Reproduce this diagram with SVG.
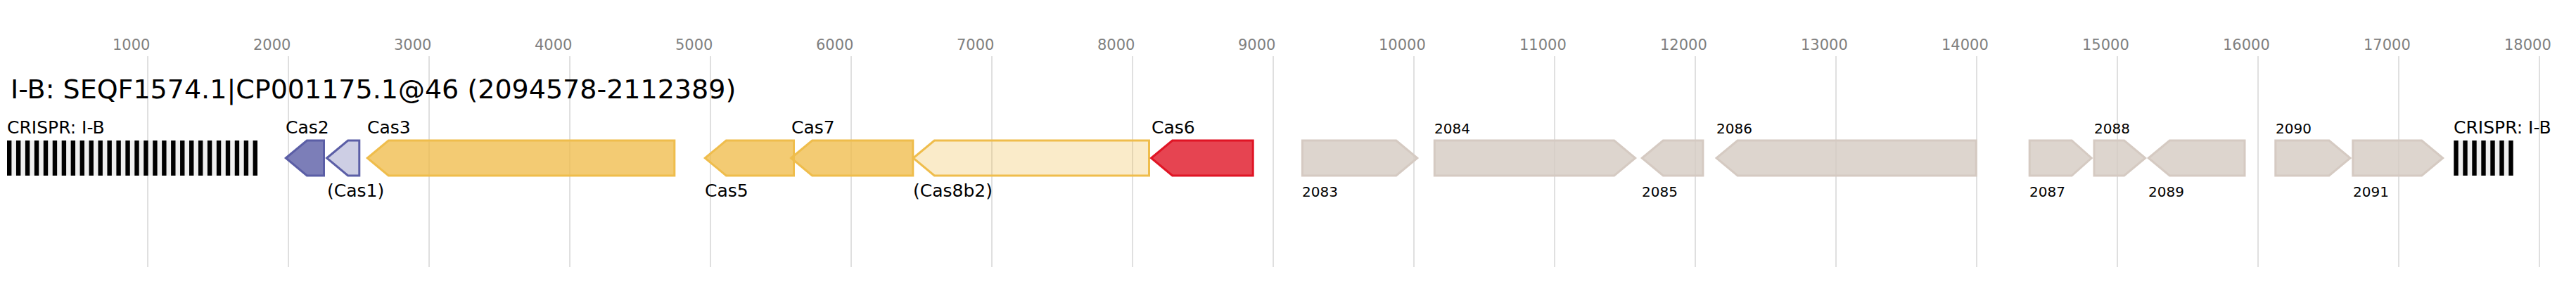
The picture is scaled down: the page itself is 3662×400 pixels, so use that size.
<svg xmlns="http://www.w3.org/2000/svg" width="3662" height="400" viewBox="0 0 3662 400">
<style>
text{font-family:"DejaVu Sans","Liberation Sans",sans-serif;fill:#000}
.tick{font-size:21px;fill:#808080}
.title{font-size:38px}
.lbl{font-size:25px}
.num{font-size:20px}
.grid line{stroke:#c0c0c0;stroke-width:1}
.gene{stroke-width:3}
.c2{fill:#5b5ea6;fill-opacity:.8;stroke:#5b5ea6}
.c1{fill:#5b5ea6;fill-opacity:.3;stroke:#5b5ea6}
.au{fill:#efbd4c;fill-opacity:.78;stroke:#efbd4c}
.aul{fill:#efbd4c;fill-opacity:.3;stroke:#efbd4c}
.c6{fill:#e01525;fill-opacity:.8;stroke:#e01525}
.unk{fill:#d5cac2;fill-opacity:.8;stroke:#d5cac2}
.rep{fill:#000}
.arr{fill:#efefef}
</style>
<rect width="3662" height="400" fill="#fff"/>
<g id="axis">
<g class="grid">
<line x1="210" y1="80" x2="210" y2="380"/><line x1="410" y1="80" x2="410" y2="380"/><line x1="610" y1="80" x2="610" y2="380"/><line x1="810" y1="80" x2="810" y2="380"/><line x1="1010" y1="80" x2="1010" y2="380"/><line x1="1210" y1="80" x2="1210" y2="380"/><line x1="1410" y1="80" x2="1410" y2="380"/><line x1="1610" y1="80" x2="1610" y2="380"/><line x1="1810" y1="80" x2="1810" y2="380"/><line x1="2010" y1="80" x2="2010" y2="380"/><line x1="2210" y1="80" x2="2210" y2="380"/><line x1="2410" y1="80" x2="2410" y2="380"/><line x1="2610" y1="80" x2="2610" y2="380"/><line x1="2810" y1="80" x2="2810" y2="380"/><line x1="3010" y1="80" x2="3010" y2="380"/><line x1="3210" y1="80" x2="3210" y2="380"/><line x1="3410" y1="80" x2="3410" y2="380"/><line x1="3610" y1="80" x2="3610" y2="380"/>
</g>
<text class="tick" x="160" y="71">1000</text><text class="tick" x="360" y="71">2000</text><text class="tick" x="560" y="71">3000</text><text class="tick" x="760" y="71">4000</text><text class="tick" x="960" y="71">5000</text><text class="tick" x="1160" y="71">6000</text><text class="tick" x="1360" y="71">7000</text><text class="tick" x="1560" y="71">8000</text><text class="tick" x="1760" y="71">9000</text><text class="tick" x="1960" y="71">10000</text><text class="tick" x="2160" y="71">11000</text><text class="tick" x="2360" y="71">12000</text><text class="tick" x="2560" y="71">13000</text><text class="tick" x="2760" y="71">14000</text><text class="tick" x="2960" y="71">15000</text><text class="tick" x="3160" y="71">16000</text><text class="tick" x="3360" y="71">17000</text><text class="tick" x="3560" y="71">18000</text>
</g>
<text class="title" x="15" y="140">I-B: SEQF1574.1|CP001175.1@46 (2094578-2112389)</text>
<g id="crispr1">
<rect class="arr" x="10" y="200" width="356" height="50"/>
<g class="rep">
<rect x="10" y="200" width="6.4" height="50"/><rect x="22.95" y="200" width="6.4" height="50"/><rect x="35.9" y="200" width="6.4" height="50"/><rect x="48.85" y="200" width="6.4" height="50"/><rect x="61.8" y="200" width="6.4" height="50"/><rect x="74.75" y="200" width="6.4" height="50"/><rect x="87.7" y="200" width="6.4" height="50"/><rect x="100.65" y="200" width="6.4" height="50"/><rect x="113.6" y="200" width="6.4" height="50"/><rect x="126.55" y="200" width="6.4" height="50"/><rect x="139.5" y="200" width="6.4" height="50"/><rect x="152.45" y="200" width="6.4" height="50"/><rect x="165.4" y="200" width="6.4" height="50"/><rect x="178.35" y="200" width="6.4" height="50"/><rect x="191.3" y="200" width="6.4" height="50"/><rect x="204.25" y="200" width="6.4" height="50"/><rect x="217.2" y="200" width="6.4" height="50"/><rect x="230.15" y="200" width="6.4" height="50"/><rect x="243.1" y="200" width="6.4" height="50"/><rect x="256.05" y="200" width="6.4" height="50"/><rect x="269" y="200" width="6.4" height="50"/><rect x="281.95" y="200" width="6.4" height="50"/><rect x="294.9" y="200" width="6.4" height="50"/><rect x="307.85" y="200" width="6.4" height="50"/><rect x="320.8" y="200" width="6.4" height="50"/><rect x="333.75" y="200" width="6.4" height="50"/><rect x="346.7" y="200" width="6.4" height="50"/><rect x="359.6" y="200" width="6.4" height="50"/>
</g>
<text class="lbl" x="10" y="190">CRISPR: I-B</text>
</g>
<g id="cas2"><path class="gene c2" d="M406.3,225 L436.3,200 L460.5,200 L460.5,250 L436.3,250 Z"/><text class="lbl" x="406" y="190">Cas2</text></g>
<g id="cas1"><path class="gene c1" d="M464.6,225 L494.6,200 L510.8,200 L510.8,250 L494.6,250 Z"/><text class="lbl" x="465" y="280">(Cas1)</text></g>
<g id="cas3"><path class="gene au" d="M522.3,225 L552.3,200 L958.8,200 L958.8,250 L552.3,250 Z"/><text class="lbl" x="522" y="190">Cas3</text></g>
<g id="cas5"><path class="gene au" d="M1002.3,225 L1032.3,200 L1128.5,200 L1128.5,250 L1032.3,250 Z"/><text class="lbl" x="1002" y="280">Cas5</text></g>
<g id="cas7"><path class="gene au" d="M1124.6,225 L1154.6,200 L1297.8,200 L1297.8,250 L1154.6,250 Z"/><text class="lbl" x="1125" y="190">Cas7</text></g>
<g id="cas8b2"><path class="gene aul" d="M1298.3,225 L1328.3,200 L1633.5,200 L1633.5,250 L1328.3,250 Z"/><text class="lbl" x="1298" y="280">(Cas8b2)</text></g>
<g id="cas6"><path class="gene c6" d="M1636.6,225 L1666.6,200 L1781.2,200 L1781.2,250 L1666.6,250 Z"/><text class="lbl" x="1637" y="190">Cas6</text></g>
<g id="g2083"><path class="gene unk" d="M1851.4,200 L1984.8,200 L2014.8,225 L1984.8,250 L1851.4,250 Z"/><text class="num" x="1851" y="280">2083</text></g>
<g id="g2084"><path class="gene unk" d="M2039.3,200 L2294.7,200 L2324.7,225 L2294.7,250 L2039.3,250 Z"/><text class="num" x="2039" y="190">2084</text></g>
<g id="g2085"><path class="gene unk" d="M2334.3,225 L2364.3,200 L2420.9,200 L2420.9,250 L2364.3,250 Z"/><text class="num" x="2334" y="280">2085</text></g>
<g id="g2086"><path class="gene unk" d="M2440.1,225 L2470.1,200 L2809.2,200 L2809.2,250 L2470.1,250 Z"/><text class="num" x="2440" y="190">2086</text></g>
<g id="g2087"><path class="gene unk" d="M2885.2,200 L2945.2,200 L2973.2,225 L2945.2,250 L2885.2,250 Z"/><text class="num" x="2885" y="280">2087</text></g>
<g id="g2088"><path class="gene unk" d="M2977,200 L3019.7,200 L3049.7,225 L3019.7,250 L2977,250 Z"/><text class="num" x="2977" y="190">2088</text></g>
<g id="g2089"><path class="gene unk" d="M3054.3,225 L3084.3,200 L3191,200 L3191,250 L3084.3,250 Z"/><text class="num" x="3054" y="280">2089</text></g>
<g id="g2090"><path class="gene unk" d="M3234.8,200 L3311,200 L3341,225 L3311,250 L3234.8,250 Z"/><text class="num" x="3235" y="190">2090</text></g>
<g id="g2091"><path class="gene unk" d="M3344.8,200 L3442.7,200 L3472.7,225 L3442.7,250 L3344.8,250 Z"/><text class="num" x="3345" y="280">2091</text></g>
<g id="crispr2">
<rect class="arr" x="3488.3" y="200" width="84.4" height="50"/>
<g class="rep">
<rect x="3488.3" y="200" width="6.4" height="50"/><rect x="3501.3" y="200" width="6.4" height="50"/><rect x="3514.3" y="200" width="6.4" height="50"/><rect x="3527.3" y="200" width="6.4" height="50"/><rect x="3540.3" y="200" width="6.4" height="50"/><rect x="3553.3" y="200" width="6.4" height="50"/><rect x="3566.3" y="200" width="6.4" height="50"/>
</g>
<text class="lbl" x="3488" y="190">CRISPR: I-B</text>
</g>
<g id="connectors"/>
</svg>
